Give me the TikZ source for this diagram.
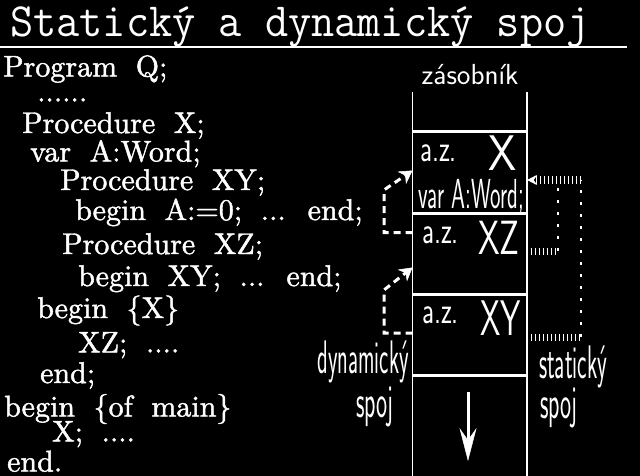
\documentclass[tikz,border=0pt]{standalone}
\usepackage{fontspec}
\usetikzlibrary{arrows.meta}
\newfontfamily\codeff{lmroman10-regular}[Extension=.otf, FakeBold=1.5]
\newcommand\codefont{\codeff\fontsize{30}{30}\selectfont\spaceskip=0.62em\relax}
\newcommand\thinlbl[3]{{\sffamily\fontsize{#2}{#2}\selectfont\scalebox{#1}[1]{#3}}}
\begin{document}
\begin{tikzpicture}[x=1pt,y=-1pt,
  code/.style={anchor=base west, inner sep=0pt, text=white, font=\codefont},
  lbl/.style={anchor=base west, inner sep=0pt, text=white},
  frame/.style={draw=none, inner sep=0pt, outer sep=0pt, minimum width=114.5pt, minimum height=81pt},
  frameline/.style={white, line width=3pt},
  wall/.style={white, line width=1.2pt},
  dyn/.style={white, line width=3pt, dash pattern=on 7pt off 5pt},
  stattick/.style={white, line width=7pt, dash pattern=on 1pt off 3pt},
  statdot/.style={white, line width=2.5pt, dash pattern=on 3pt off 9pt},
]
\fill[black] (0,0) rectangle (640,476);
\useasboundingbox (0,0) rectangle (640,476);

% title
\node[lbl, font=\ttfamily\fontsize{45}{45}\selectfont] (title) at (10,37) {\scalebox{1}[1.06]{Statický a dynamický spoj}};
\coordinate (ulL) at (0,47);
\coordinate (ulR) at (627,47);
\draw[white, line width=2pt] (ulL) -- (ulR);

% code
\node[code] (c1) at (3,76.5) {Program Q;};
\node[code] (c2) at (37,101.5) {......};
\node[code] (c3) at (22,133) {Procedure X;};
\node[code] (c4) at (30,161.5) {var A:Word;};
\node[code] (c5) at (60,190) {Procedure XY;};
\node[code] (c6) at (75,220) {begin A:=0; ... end;};
\node[code] (c7) at (62,254) {Procedure XZ;};
\node[code] (c8) at (78,286) {begin XY; ... end;};
\node[code] (c9) at (37,318) {begin \{X\}};
\node[code] (c10) at (78,352.5) {XZ; ....};
\node[code] (c11) at (40,383) {end;};
\node[code] (c12) at (4,416.5) {begin \{of main\}};
\node[code] (c13) at (52,441.5) {X; ....};
\node[code] (c14) at (7,471.5) {end.};

% stack
\node[lbl, anchor=base] (zas) at (470,85) {\thinlbl{1}{29}{zásobník}};
\coordinate (wLt) at (412.5,92);
\coordinate (wLb) at (412.5,476);
\coordinate (wRt) at (527,92);
\coordinate (wRb) at (527,476);
\draw[wall] (wLt) -- (wLb);
\draw[wall] (wRt) -- (wRb);
\node[frame] (fX) at (469.75,172.5) {};
\node[frame] (fXZ) at (469.75,253.5) {};
\node[frame] (fXY) at (469.75,334.5) {};
\draw[frameline] (fX.north west) -- (fX.north east);
\draw[frameline] (fXZ.north west) -- (fXZ.north east);
\draw[frameline] (fXY.north west) -- (fXY.north east);
\draw[frameline] (fXY.south west) -- (fXY.south east);

\node[lbl] (az1) at (420,162) {\thinlbl{0.7}{38}{a.z.}};
\node[lbl] (nX) at (488,171) {\thinlbl{0.9}{50}{X}};
\node[lbl] (varA) at (418,208) {\thinlbl{0.53}{42}{var A:Word;}};
\node[lbl] (az2) at (422,243) {\thinlbl{0.7}{38}{a.z.}};
\node[lbl] (nXZ) at (478,254) {\thinlbl{0.72}{48}{XZ}};
\node[lbl] (az3) at (422,323) {\thinlbl{0.7}{38}{a.z.}};
\node[lbl] (nXY) at (480,335) {\thinlbl{0.65}{50}{XY}};

% growth arrow
\coordinate (arrT) at (468,392);
\coordinate (arrB) at (468,461);
\draw[white, line width=3pt, -{Stealth[length=33pt,width=17pt,inset=12pt,line width=0.5pt]}] (arrT) -- (arrB);

% dynamic links
\coordinate (dynA) at (384,190);
\coordinate (dynB) at (384,290);
\draw[dyn, -{Stealth[length=13pt,width=15pt,line width=0.5pt]}] ([yshift=21pt]fXZ.west) -| (dynA) -- ([yshift=2pt]fX.west);
\draw[dyn, -{Stealth[length=13pt,width=15pt,line width=0.5pt]}] ([yshift=1.5pt]fXY.west) -| (dynB) -- ([yshift=-14pt]fXZ.west);
\node[lbl, anchor=base east] (dynl) at (409,373) {\thinlbl{0.47}{47}{dynamický}};
\node[lbl] (dspoj) at (356,417) {\thinlbl{0.5}{47}{spoj}};

% static links
\coordinate (stA) at (558,251);
\coordinate (stB) at (558,180);
\coordinate (stC) at (581,337);
\coordinate (stD) at (581,180);
\draw[stattick] ([yshift=2.5pt]fXZ.east) -- (stA);
\draw[statdot] (stA) -- (stB);
\draw[stattick] ([yshift=-2.5pt]fXY.east) -- (stC);
\draw[statdot] (stC) -- (stD);
\draw[stattick, -{Stealth[length=10pt,width=10pt,line width=0.5pt]}] (stD) -- ([yshift=-7.5pt]fX.east);
\node[lbl] (stat) at (539,378) {\thinlbl{0.48}{47}{statický}};
\node[lbl] (sspoj) at (540,418) {\thinlbl{0.5}{47}{spoj}};
\end{tikzpicture}
\end{document}
